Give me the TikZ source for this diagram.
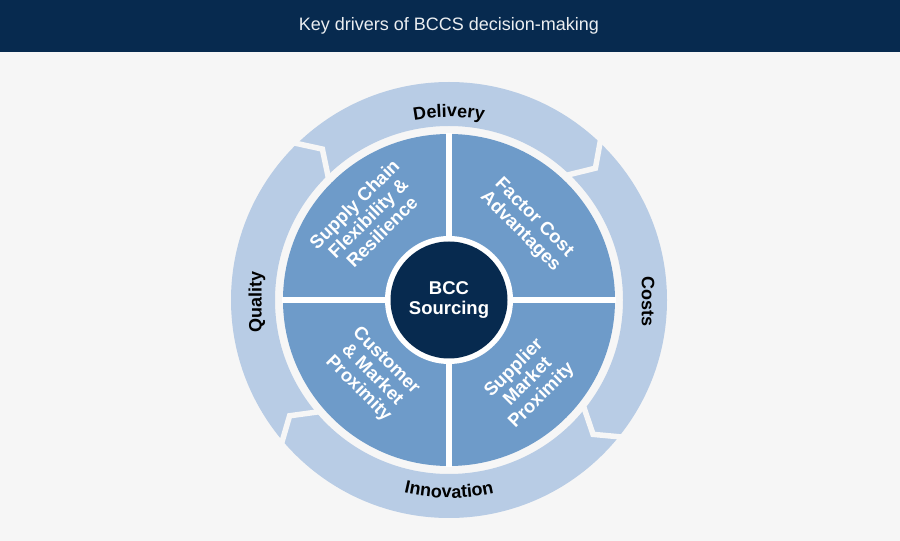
\documentclass[tikz,border=0pt]{standalone}
\usepackage{fontspec}
\setmainfont{Liberation Sans}
\usetikzlibrary{decorations.text}
\definecolor{navy}{HTML}{072A4F}
\definecolor{quadblue}{HTML}{6E9BC9}
\definecolor{ringblue}{HTML}{B8CCE5}
\definecolor{bggray}{HTML}{F6F6F6}
\newcommand\ringfont{\bfseries\fontsize{18}{20}\selectfont}
\tikzset{
  quad/.style={text=white, font=\bfseries\fontsize{18.5}{19.5}\selectfont, align=center, inner sep=0pt},
  ringlabel/.style={font=\ringfont},
  gap/.style={draw=bggray, line width=5.5pt},
}

\begin{document}
\begin{tikzpicture}[x=1pt,y=1pt]
	\useasboundingbox (0,0) rectangle (900,541);
	\fill[bggray] (0,0) rectangle (900,541);
	\fill[navy] (0,489) rectangle (900,541);
	\node[text=white!92!navy, font=\fontsize{18}{20}\selectfont] (title) at (449,515) {Key drivers of BCCS decision-making};
	\begin{scope}[shift={(449,241)}]
		% outer ring with chevron gaps
		\fill[ringblue, even odd rule] (0,0) circle (218) (0,0) circle (174);
		\foreach \a in {130,42,-43,-144}
			\draw[gap] ({\a+5}:223) -- (\a:197) -- ({\a+5}:170);
		% quadrants
		\fill[quadblue] (0,0) circle (166);
		\draw[white, line width=6pt] (-167,0) -- (167,0) (0,-167) -- (0,167);
		\fill[white] (0,0) circle (64);
		\fill[navy] (0,0) circle (58.5);
		\node[quad] (core) at (0,0) {BCC\\Sourcing};
		\node[quad, rotate=45] (supply) at (-81,82) {Supply Chain\\Flexibility \&\\Resilience};
		\node[quad, rotate=-45] (factor) at (78,75) {Factor Cost\\Advantages};
		\node[quad, rotate=-45] (customer) at (-77,-75) {Customer\\\& Market\\Proximity};
		\node[quad, rotate=45] (supplier) at (79,-82) {Supplier\\Market\\Proximity};
		% ring labels
		\path[decorate, decoration={text along path, text align=center, text={|\ringfont|Delivery}}]
			(110:183) arc[start angle=110, end angle=70, radius=183];
		\path[decorate, decoration={text along path, text align=center, text={|\ringfont|Innovation}}]
			(-110:198) arc[start angle=-110, end angle=-70, radius=198];
		\node[ringlabel, rotate=-90] (costs) at (199,-2) {Costs};
		\node[ringlabel, rotate=90] (quality) at (-192,-2) {Quality};
	\end{scope}
\end{tikzpicture}
\end{document}
